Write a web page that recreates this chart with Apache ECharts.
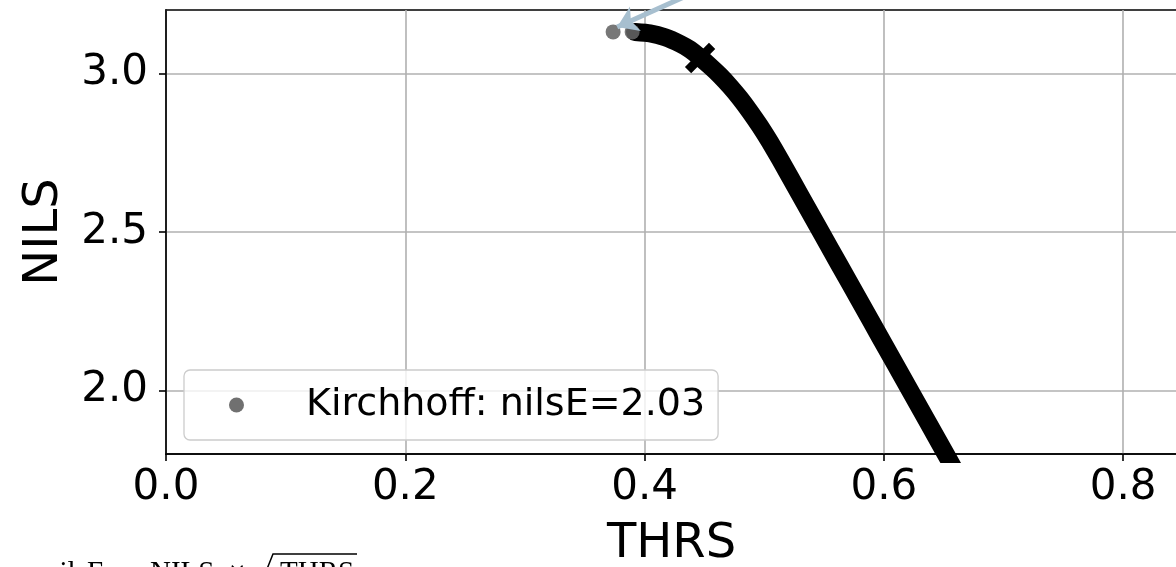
<!DOCTYPE html>
<html>
<head>
<meta charset="utf-8">
<script src="https://cdn.jsdelivr.net/npm/echarts@6/dist/echarts.min.js"></script>
<style>
html,body{margin:0;padding:0;background:#fff;}
#chart{width:1176px;height:567px;}
</style>
</head>
<body>
<div id="chart"></div>
<script>
// ---- data ----
const curveThrs = [0.3920, 0.4045, 0.4171, 0.4296, 0.4380, 0.4464, 0.4547, 0.4631, 0.4714, 0.4798, 0.4881, 0.4965, 0.5048, 0.5132, 0.5299, 0.5466, 0.5625, 0.5801, 0.5968, 0.6219, 0.6520, 0.6762];
const curveNils = [3.1306, 3.1265, 3.1142, 3.0937, 3.0754, 3.0501, 3.0230, 2.9931, 2.9593, 2.9215, 2.8795, 2.8335, 2.7837, 2.7294, 2.6172, 2.5049, 2.3983, 2.2804, 2.1681, 1.9997, 1.7976, 1.6348];
const kirchhoffThrs = [0.3737, 0.3896];
const kirchhoffNils = [3.131, 3.131];
const markerThrs = [0.4464];
const markerNils = [3.0486];
const arrowFrom = [0.4465, 3.264];
const arrowTo = [0.3771, 3.1465];
const xTicks = [0, 0.2, 0.4, 0.6, 0.8];
const yTicks = [2.0, 2.5, 3.0];
const legendLabel = 'Kirchhoff: nilsE=2.03';
const captionParts = ['nilsE', '=', 'NILS', '×', 'THRS'];

const chart = echarts.init(document.getElementById('chart'), null, {renderer: 'canvas'});
const FONT = 'DejaVu Sans';
const SERIF = '29px "Liberation Serif"';

const option = {
  animation: false,
  backgroundColor: '#ffffff',
  grid: {
    left: 166, right: -1, top: 10, bottom: 113,
    outerBoundsMode: 'none', containLabel: false,
    show: true, borderColor: '#000000', borderWidth: 1.6, backgroundColor: 'transparent'
  },
  legend: {
    left: 184, top: 370,
    padding: [16, 13, 16, 45],
    itemWidth: 15, itemHeight: 15,
    backgroundColor: 'rgba(255,255,255,0.8)',
    borderColor: '#cccccc', borderWidth: 1.3, borderRadius: 6,
    data: [{name: legendLabel, icon: 'circle', itemStyle: {color: '#707070', opacity: 1}}],
    textStyle: {fontFamily: FONT, fontSize: 38, color: '#000', padding: [0, 0, 0, 57]}
  },
  xAxis: {
    type: 'value', min: 0, max: 0.845,
    name: 'THRS', nameLocation: 'middle', nameGap: 67,
    nameTextStyle: {fontFamily: FONT, fontSize: 48, color: '#000'},
    axisLine: {show: true, onZero: false, lineStyle: {color: '#000', width: 1.6}},
    axisTick: {show: true, inside: false, length: 7, customValues: xTicks, lineStyle: {color: '#000', width: 1.6}},
    axisLabel: {customValues: xTicks, margin: 13, fontFamily: FONT, fontSize: 42, color: '#000',
      formatter: v => v.toFixed(1)},
    splitLine: {show: true, lineStyle: {color: '#b0b0b0', width: 1.6}}
  },
  yAxis: {
    type: 'value', min: 1.8, max: 3.2,
    name: 'NILS', nameLocation: 'middle', nameGap: 97,
    nameTextStyle: {fontFamily: FONT, fontSize: 48, color: '#000'},
    axisLine: {show: true, onZero: false, lineStyle: {color: '#000', width: 1.6}},
    axisTick: {show: true, inside: false, length: 7, customValues: yTicks, lineStyle: {color: '#000', width: 1.6}},
    axisLabel: {customValues: yTicks, margin: 18, fontFamily: FONT, fontSize: 42, color: '#000',
      formatter: v => v.toFixed(1)},
    splitLine: {show: true, lineStyle: {color: '#b0b0b0', width: 1.6}}
  },
  series: [
    {
      name: 'curve', type: 'line', z: 2,
      data: curveThrs.map((x, i) => [x, curveNils[i]]),
      showSymbol: false, smooth: 0.15, clip: true,
      lineStyle: {color: '#000000', width: 18, cap: 'round', join: 'round'}
    },
    {
      name: 'marker', type: 'scatter', z: 3,
      data: markerThrs.map((x, i) => [x, markerNils[i]]),
      symbol: 'path://M-1.3,-5 L1.3,-5 L1.3,-1.3 L5,-1.3 L5,1.3 L1.3,1.3 L1.3,5 L-1.3,5 L-1.3,1.3 L-5,1.3 L-5,-1.3 L-1.3,-1.3 Z',
      symbolSize: 34, symbolRotate: 45,
      itemStyle: {color: '#000000', opacity: 1}
    },
    {
      name: legendLabel, type: 'scatter', z: 4,
      data: kirchhoffThrs.map((x, i) => [x, kirchhoffNils[i]]),
      symbol: 'circle', symbolSize: 15,
      itemStyle: {color: 'rgba(100,100,100,0.88)', opacity: 1}
    },
    {
      name: 'arrow', type: 'lines', coordinateSystem: 'cartesian2d', z: 5, clip: false,
      symbol: ['none', 'arrow'], symbolSize: 20,
      lineStyle: {color: '#a7bfcf', width: 5, opacity: 1},
      data: [{coords: [arrowFrom, arrowTo]}]
    }
  ],
  graphic: [
    {type: 'text', left: 45, top: 559, z: 10, style: {text: captionParts[0], font: SERIF, fill: '#000'}},
    {type: 'text', left: 120, top: 559, z: 10, style: {text: captionParts[1], font: SERIF, fill: '#000'}},
    {type: 'text', left: 150, top: 559, z: 10, style: {text: captionParts[2], font: SERIF, fill: '#000'}},
    {type: 'text', left: 229, top: 559, z: 10, style: {text: captionParts[3], font: SERIF, fill: '#000'}},
    {type: 'text', left: 280, top: 559, z: 10, style: {text: captionParts[4], font: SERIF, fill: '#000'}},
    {type: 'polyline', z: 10, shape: {points: [[260, 569], [265, 574], [273, 554], [357, 554]]},
      style: {stroke: '#000', lineWidth: 1.5, fill: null}}
  ]
};
chart.setOption(option);
</script>
</body>
</html>
